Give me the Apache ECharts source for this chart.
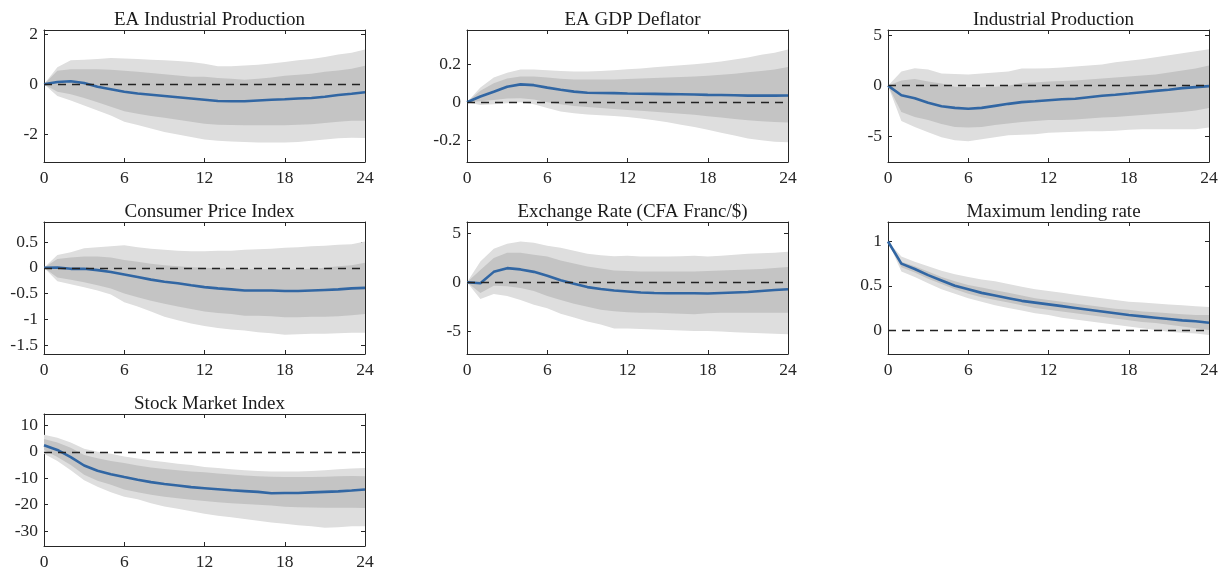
<!DOCTYPE html>
<html><head><meta charset="utf-8">
<script src="https://cdn.jsdelivr.net/npm/echarts@6/dist/echarts.min.js"></script>
<style>html,body{margin:0;padding:0;background:#fff}#c{width:1227px;height:574px}</style>
</head><body><div id="c"></div>
<script>
const horizons = [0,1,2,3,4,5,6,7,8,9,10,11,12,13,14,15,16,17,18,19,20,21,22,23,24];
const xTicks = [0,6,12,18,24];

const titles = ['EA Industrial Production','EA GDP Deflator','Industrial Production','Consumer Price Index','Exchange Rate (CFA Franc/$)','Maximum lending rate','Stock Market Index'];

// EA Industrial Production
const eaipMed = [0,0.09,0.12,0.05,-0.1,-0.2,-0.3,-0.37,-0.42,-0.47,-0.52,-0.57,-0.62,-0.67,-0.68,-0.68,-0.65,-0.62,-0.6,-0.57,-0.55,-0.5,-0.43,-0.38,-0.32];
const eaipInHi = [0,0.54,0.6,0.6,0.6,0.58,0.54,0.5,0.45,0.4,0.35,0.3,0.3,0.25,0.22,0.18,0.22,0.27,0.34,0.38,0.42,0.5,0.55,0.62,0.74];
const eaipInLo = [0,-0.3,-0.4,-0.55,-0.72,-0.9,-1.08,-1.18,-1.27,-1.34,-1.42,-1.5,-1.58,-1.62,-1.63,-1.64,-1.64,-1.64,-1.64,-1.62,-1.6,-1.55,-1.5,-1.46,-1.46];
const eaipOutHi = [0,0.68,0.95,0.97,1.0,1.04,1.02,1.0,0.97,0.95,0.92,0.88,0.82,0.72,0.72,0.75,0.78,0.83,0.88,0.95,1.0,1.08,1.18,1.25,1.38];
const eaipOutLo = [0,-0.47,-0.65,-0.85,-1.05,-1.25,-1.5,-1.63,-1.77,-1.9,-2.0,-2.1,-2.2,-2.25,-2.28,-2.3,-2.32,-2.32,-2.32,-2.3,-2.25,-2.2,-2.15,-2.13,-2.14];
const eaipTicks = [-2,0,2];

// EA GDP Deflator
const gdpdMed = [0,0.03,0.055,0.082,0.094,0.09,0.077,0.066,0.056,0.05,0.049,0.048,0.046,0.045,0.044,0.043,0.042,0.041,0.039,0.038,0.037,0.035,0.035,0.035,0.036];
const gdpdInHi = [0,0.06,0.1,0.125,0.135,0.135,0.13,0.124,0.12,0.12,0.12,0.12,0.122,0.125,0.127,0.13,0.133,0.136,0.14,0.145,0.15,0.158,0.165,0.172,0.186];
const gdpdInLo = [0,0.005,0.012,0.02,0.021,0.015,0.0,-0.01,-0.02,-0.025,-0.03,-0.035,-0.04,-0.045,-0.05,-0.055,-0.06,-0.066,-0.073,-0.08,-0.088,-0.095,-0.1,-0.104,-0.106];
const gdpdOutHi = [0,0.078,0.13,0.155,0.172,0.172,0.169,0.165,0.162,0.162,0.165,0.168,0.173,0.178,0.184,0.19,0.195,0.2,0.207,0.215,0.225,0.236,0.25,0.26,0.277];
const gdpdOutLo = [0,-0.014,-0.01,-0.005,0.0,-0.01,-0.03,-0.048,-0.058,-0.064,-0.068,-0.072,-0.077,-0.085,-0.095,-0.105,-0.118,-0.13,-0.144,-0.16,-0.175,-0.19,-0.2,-0.207,-0.21];
const gdpdTicks = [-0.2,0,0.2];

// Industrial Production
const ipMed = [0,-0.95,-1.24,-1.7,-2.03,-2.2,-2.29,-2.2,-2.0,-1.8,-1.63,-1.55,-1.44,-1.35,-1.3,-1.15,-1.0,-0.9,-0.78,-0.65,-0.52,-0.4,-0.25,-0.15,-0.05];
const ipInHi = [0,0.5,0.65,0.4,0.2,-0.1,-0.15,-0.15,-0.1,0.0,0.25,0.3,0.4,0.45,0.5,0.6,0.7,0.8,0.9,1.0,1.1,1.3,1.5,1.7,2.0];
const ipInLo = [0,-2.6,-3.1,-3.4,-3.8,-4.1,-4.15,-4.1,-3.9,-3.75,-3.6,-3.5,-3.4,-3.4,-3.35,-3.25,-3.15,-3.1,-3.0,-2.9,-2.8,-2.7,-2.6,-2.45,-2.2];
const ipOutHi = [0,1.4,1.73,1.6,1.2,1.15,1.1,1.2,1.3,1.4,1.7,1.7,1.73,1.8,1.9,2.0,2.1,2.3,2.45,2.6,2.8,3.0,3.2,3.4,3.6];
const ipOutLo = [0,-3.5,-4.1,-4.6,-5.1,-5.4,-5.5,-5.3,-5.1,-4.9,-4.85,-4.8,-4.65,-4.6,-4.55,-4.5,-4.5,-4.45,-4.35,-4.3,-4.3,-4.3,-4.3,-4.3,-4.15];
const ipTicks = [-5,0,5];

// Consumer Price Index
const cpiMed = [0,0.005,-0.02,-0.02,-0.045,-0.08,-0.13,-0.18,-0.23,-0.27,-0.3,-0.34,-0.375,-0.4,-0.42,-0.44,-0.44,-0.44,-0.45,-0.45,-0.44,-0.43,-0.42,-0.4,-0.39];
const cpiInHi = [0,0.17,0.2,0.22,0.22,0.2,0.15,0.12,0.08,0.05,0.03,0.01,0.0,-0.01,-0.02,-0.03,-0.03,-0.03,-0.04,-0.03,-0.02,0.0,0.03,0.05,0.1];
const cpiInLo = [0,-0.19,-0.23,-0.28,-0.34,-0.4,-0.5,-0.57,-0.64,-0.7,-0.75,-0.8,-0.85,-0.88,-0.9,-0.93,-0.93,-0.94,-0.96,-0.96,-0.95,-0.95,-0.94,-0.92,-0.9];
const cpiOutHi = [0,0.25,0.3,0.38,0.4,0.42,0.44,0.4,0.37,0.35,0.33,0.32,0.32,0.33,0.33,0.35,0.36,0.37,0.39,0.4,0.42,0.43,0.45,0.46,0.51];
const cpiOutLo = [0,-0.26,-0.32,-0.38,-0.44,-0.52,-0.67,-0.75,-0.85,-0.95,-1.02,-1.08,-1.13,-1.17,-1.2,-1.22,-1.25,-1.27,-1.3,-1.29,-1.28,-1.28,-1.27,-1.26,-1.26];
const cpiTicks = [-1.5,-1,-0.5,0,0.5];

// Exchange Rate
const fxMed = [0,-0.1,1.05,1.43,1.3,1.05,0.65,0.2,-0.15,-0.5,-0.7,-0.85,-0.95,-1.05,-1.1,-1.12,-1.12,-1.12,-1.15,-1.1,-1.05,-1.0,-0.9,-0.8,-0.72];
const fxInHi = [0,1.25,2.45,3.0,3.0,2.8,2.6,2.2,1.9,1.6,1.4,1.2,1.15,1.1,1.1,1.1,1.1,1.1,1.15,1.2,1.25,1.3,1.35,1.45,1.55];
const fxInLo = [0,-1.1,-0.37,-0.4,-0.6,-0.9,-1.4,-1.8,-2.2,-2.5,-2.8,-2.95,-3.05,-3.1,-3.1,-3.15,-3.2,-3.25,-3.15,-3.1,-3.1,-3.1,-3.1,-3.1,-3.1];
const fxOutHi = [0,2.1,3.4,3.9,4.15,4.0,3.7,3.5,3.2,2.9,2.75,2.65,2.7,2.6,2.6,2.6,2.65,2.7,2.6,2.7,2.8,2.9,2.95,3.0,3.1];
const fxOutLo = [0,-1.7,-1.2,-1.4,-1.8,-2.3,-2.65,-3.2,-3.6,-4.0,-4.3,-4.7,-4.7,-4.75,-4.8,-4.85,-4.9,-4.95,-4.95,-5.0,-5.1,-5.15,-5.2,-5.25,-5.3];
const fxTicks = [-5,0,5];

// Maximum lending rate
const mlrMed = [1.0,0.75,0.69,0.62,0.56,0.5,0.46,0.42,0.39,0.36,0.33,0.31,0.29,0.27,0.25,0.23,0.21,0.19,0.17,0.155,0.14,0.125,0.11,0.1,0.083];
const mlrInHi = [1.0,0.77,0.72,0.66,0.6,0.55,0.51,0.48,0.45,0.42,0.39,0.36,0.34,0.32,0.3,0.28,0.26,0.24,0.23,0.21,0.2,0.19,0.18,0.17,0.17];
const mlrInLo = [1.0,0.71,0.65,0.58,0.52,0.46,0.41,0.37,0.34,0.31,0.28,0.25,0.23,0.21,0.19,0.17,0.15,0.13,0.11,0.09,0.08,0.06,0.04,0.02,0.0];
const mlrOutHi = [1.0,0.83,0.77,0.72,0.67,0.63,0.6,0.57,0.55,0.52,0.49,0.46,0.44,0.42,0.4,0.38,0.36,0.34,0.32,0.31,0.3,0.29,0.28,0.27,0.26];
const mlrOutLo = [1.0,0.66,0.6,0.53,0.46,0.41,0.36,0.32,0.28,0.25,0.22,0.19,0.17,0.14,0.12,0.1,0.08,0.06,0.04,0.02,0.0,-0.02,-0.03,-0.04,-0.055];
const mlrTicks = [0,0.5,1];

// Stock Market Index
const smiMed = [2.5,0.7,-2.0,-5.2,-7.2,-8.5,-9.6,-10.6,-11.5,-12.2,-12.8,-13.4,-13.8,-14.2,-14.6,-14.9,-15.2,-15.7,-15.6,-15.6,-15.4,-15.2,-15.0,-14.7,-14.3];
const smiInHi = [4.8,3.5,1.5,-1.2,-2.5,-3.5,-4.3,-5.2,-6.0,-6.5,-7.0,-7.5,-7.8,-8.2,-8.6,-9.0,-9.3,-9.5,-9.6,-9.6,-9.6,-9.5,-9.3,-9.2,-9.3];
const smiInLo = [0.7,-2.0,-5.0,-8.7,-11.0,-12.5,-14.3,-15.3,-16.3,-17.0,-17.6,-18.2,-18.7,-19.1,-19.5,-19.8,-20.1,-20.4,-20.8,-21.0,-21.1,-21.2,-21.2,-21.2,-21.3];
const smiOutHi = [6.4,5.3,3.5,1.1,0.0,-0.8,-1.8,-2.6,-3.3,-3.9,-4.5,-5.0,-5.8,-6.2,-6.6,-7.0,-7.3,-7.5,-7.5,-7.5,-7.3,-7.0,-6.6,-6.3,-6.2];
const smiOutLo = [-0.8,-3.5,-7.0,-10.8,-13.3,-15.3,-17.0,-18.0,-19.5,-20.7,-21.6,-22.5,-23.5,-24.2,-24.8,-25.5,-26.1,-26.8,-27.3,-27.8,-28.2,-28.8,-28.6,-28.2,-28.2];
const smiTicks = [-30,-20,-10,0,10];

const panels = [
  {med:eaipMed, inHi:eaipInHi, inLo:eaipInLo, outHi:eaipOutHi, outLo:eaipOutLo, ticks:eaipTicks, yMin:-3.1, yMax:2.16},
  {med:gdpdMed, inHi:gdpdInHi, inLo:gdpdInLo, outHi:gdpdOutHi, outLo:gdpdOutLo, ticks:gdpdTicks, yMin:-0.314, yMax:0.38},
  {med:ipMed, inHi:ipInHi, inLo:ipInLo, outHi:ipOutHi, outLo:ipOutLo, ticks:ipTicks, yMin:-7.55, yMax:5.5},
  {med:cpiMed, inHi:cpiInHi, inLo:cpiInLo, outHi:cpiOutHi, outLo:cpiOutLo, ticks:cpiTicks, yMin:-1.675, yMax:0.89},
  {med:fxMed, inHi:fxInHi, inLo:fxInLo, outHi:fxOutHi, outLo:fxOutLo, ticks:fxTicks, yMin:-7.3, yMax:6.12},
  {med:mlrMed, inHi:mlrInHi, inLo:mlrInLo, outHi:mlrOutHi, outLo:mlrOutLo, ticks:mlrTicks, yMin:-0.27, yMax:1.22},
  {med:smiMed, inHi:smiInHi, inLo:smiInLo, outHi:smiOutHi, outLo:smiOutLo, ticks:smiTicks, yMin:-35.7, yMax:14.3}
];

const FONT = '"Liberation Serif", "Times New Roman", serif';
const AX = '#262626';
const lefts = [44, 467, 888];
const tops = [30, 222, 414];
const W = 321, H = 132;

const option = {animation:false, title:[], grid:[], xAxis:[], yAxis:[], series:[]};

function band(lo, hi, color, xi, yi) {
  return {
    type:'custom', xAxisIndex:xi, yAxisIndex:yi, silent:true, clip:true, z:1,
    data:[[0,0]],
    renderItem:function(params, api){
      const pts = [];
      for (let i=0;i<horizons.length;i++) pts.push(api.coord([horizons[i], hi[i]]));
      for (let i=horizons.length-1;i>=0;i--) pts.push(api.coord([horizons[i], lo[i]]));
      return {type:'polygon', shape:{points:pts}, style:{fill:color, stroke:null}};
    }
  };
}

panels.forEach((p, k) => {
  const col = k % 3, row = Math.floor(k / 3);
  const L = lefts[col], T = tops[row];
  option.grid.push({left:L, top:T, width:W, height:H, show:false});
  option.title.push({text:titles[k], left:L + W/2, top:T - 24, textAlign:'center',
    textStyle:{fontFamily:FONT, fontSize:19, fontWeight:'normal', color:'#1a1a1a'}});
  const xb = option.xAxis.length;
  option.xAxis.push({type:'value', gridIndex:k, position:'bottom', min:0, max:24, interval:6,
    axisLine:{show:true, onZero:false, lineStyle:{color:AX, width:1}},
    axisTick:{show:true, inside:true, length:4, lineStyle:{color:AX}},
    axisLabel:{show:true, margin:7, fontFamily:FONT, fontSize:17.5, color:AX},
    splitLine:{show:false}});
  option.xAxis.push({type:'value', gridIndex:k, position:'top', min:0, max:24, interval:6,
    axisLine:{show:true, onZero:false, lineStyle:{color:AX, width:1}},
    axisTick:{show:true, inside:true, length:4, lineStyle:{color:AX}},
    axisLabel:{show:false}, splitLine:{show:false}});
  const yb = option.yAxis.length;
  option.yAxis.push({type:'value', gridIndex:k, position:'left', min:p.yMin, max:p.yMax,
    axisLine:{show:true, onZero:false, lineStyle:{color:AX, width:1}},
    axisTick:{show:true, inside:true, length:4, lineStyle:{color:AX}, customValues:p.ticks},
    axisLabel:{show:true, margin:6, fontFamily:FONT, fontSize:17.5, color:AX, customValues:p.ticks},
    splitLine:{show:false}});
  option.yAxis.push({type:'value', gridIndex:k, position:'right', min:p.yMin, max:p.yMax,
    axisLine:{show:true, onZero:false, lineStyle:{color:AX, width:1}},
    axisTick:{show:true, inside:true, length:4, lineStyle:{color:AX}, customValues:p.ticks},
    axisLabel:{show:false}, splitLine:{show:false}});
  option.series.push(band(p.outLo, p.outHi, '#dedede', xb, yb));
  option.series.push(band(p.inLo, p.inHi, '#c4c4c4', xb, yb));
  option.series.push({type:'line', xAxisIndex:xb, yAxisIndex:yb, z:3,
    data:horizons.map((h,i)=>[h, p.med[i]]), symbol:'none', silent:true,
    lineStyle:{color:'#3166a3', width:2.6},
    markLine:{silent:true, symbol:'none', z:5, label:{show:false},
      lineStyle:{color:'#222222', width:1.3, type:[8,6]},
      data:[{yAxis:0}]}
  });
});

const chart = echarts.init(document.getElementById('c'), null, {renderer:'canvas'});
chart.setOption(option);
</script>
</body></html>
